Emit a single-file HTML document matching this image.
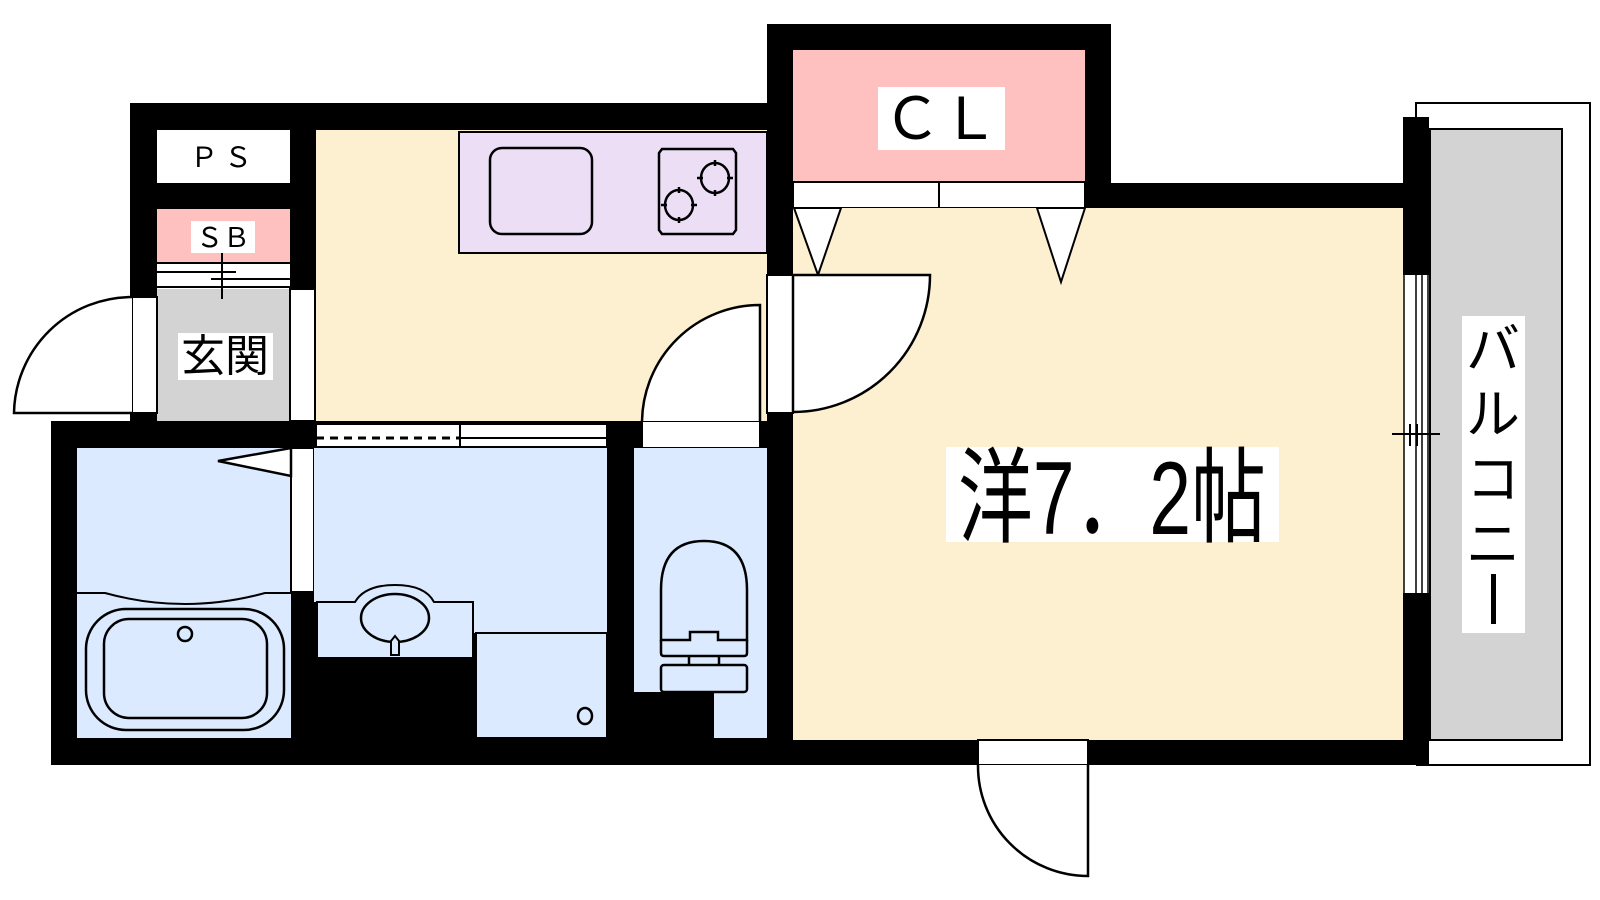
<!DOCTYPE html>
<html><head><meta charset="utf-8"><style>
html,body{margin:0;padding:0;background:#fff;}
svg{display:block;}
text{font-family:"Liberation Sans","Noto Sans CJK JP",sans-serif;fill:#000;}
</style></head><body>
<svg width="1600" height="900" viewBox="0 0 1600 900" xmlns="http://www.w3.org/2000/svg">
<g stroke="none">
<rect x="130" y="103" width="663" height="320" fill="#000"/>
<rect x="767" y="24" width="344" height="184" fill="#000"/>
<rect x="1085" y="183" width="344" height="25" fill="#000"/>
<rect x="1403" y="117" width="26" height="648" fill="#000"/>
<rect x="51" y="421" width="742" height="344" fill="#000"/>
<rect x="767" y="400" width="662" height="365" fill="#000"/>
</g>
<rect x="157" y="130" width="133" height="53" fill="#fff"/>
<rect x="157" y="209" width="133" height="53" fill="#ffc0c0"/>
<rect x="157" y="262" width="133" height="27" fill="#fff"/>
<rect x="157" y="289" width="133" height="132" fill="#d3d3d3"/>
<rect x="316" y="130" width="451" height="291" fill="#fdf0d0"/>
<rect x="459" y="132" width="308" height="121" fill="#ecdff5" stroke="#000" stroke-width="2"/>
<rect x="490" y="148" width="102" height="86" rx="12" fill="none" stroke="#000" stroke-width="2.5"/>
<path d="M662,149 H733 L736,153 V230 L733,234 H662 L659,230 V153 Z" fill="none" stroke="#000" stroke-width="2.5"/>
<g fill="none" stroke="#000" stroke-width="2.5">
<ellipse cx="715" cy="178" rx="14" ry="15"/><path d="M715,160v6M715,190v6M697,178h6M727,178h6"/>
<ellipse cx="679" cy="205" rx="14" ry="15"/><path d="M679,187v6M679,217v6M661,205h6M691,205h6"/>
</g>
<rect x="793" y="50" width="292" height="132" fill="#ffc0c0"/>
<rect x="793" y="182" width="292" height="26" fill="#fff" stroke="#000" stroke-width="2"/>
<line x1="939" y1="182" x2="939" y2="208" stroke="#000" stroke-width="2"/>
<rect x="793" y="208" width="610" height="532" fill="#fdf0d0"/>
<polygon points="794,208 841,208 818,275" fill="#fff" stroke="#000" stroke-width="2"/>
<polygon points="1037,208 1085,208 1061,282" fill="#fff" stroke="#000" stroke-width="2"/>
<rect x="767" y="275" width="26" height="138" fill="#fff" stroke="#000" stroke-width="2"/>
<path d="M793,275 H930 A137,137 0 0 1 793,412 Z" fill="#fff" stroke="#000" stroke-width="2.5"/>
<path d="M1416,117 V103 H1590 V765 H1416" fill="none" stroke="#000" stroke-width="2"/>
<rect x="1430" y="129" width="132" height="611" fill="#d3d3d3" stroke="#000" stroke-width="2"/>
<rect x="1403" y="275" width="26" height="318" fill="#fff"/>
<path d="M1404,275V593M1416,275V593M1422,275V593M1428,275V593" stroke="#000" stroke-width="1.5"/>
<path d="M1392,434H1440M1410,424V446M1417,424V446" stroke="#000" stroke-width="2"/>
<rect x="1462" y="316" width="63" height="317" fill="#fff"/>
<g font-size="54">
<text x="1493" y="368" text-anchor="middle">バ</text>
<text x="1493" y="433" text-anchor="middle">ル</text>
<text x="1493" y="498" text-anchor="middle">コ</text>
<text x="1493" y="563" text-anchor="middle">ニ</text>
</g>
<rect x="1491" y="574" width="5" height="50" fill="#000"/>
<rect x="132" y="297" width="25" height="116" fill="#fff" stroke="#000" stroke-width="2"/>
<path d="M132,297 A118,118 0 0 0 14,413 H132" fill="#fff" stroke="#000" stroke-width="2.5"/>
<rect x="290" y="289" width="25" height="132" fill="#fff" stroke="#000" stroke-width="2"/>
<g stroke="#000" stroke-width="2">
<path d="M157,263H290M157,272H236M211,279H290M157,287H290M222,253V299"/>
</g>
<rect x="191" y="221" width="64" height="32" fill="#fff"/>
<rect x="178" y="333" width="95" height="47" fill="#fff"/>
<rect x="642" y="421" width="118" height="27" fill="#fff" stroke="#000" stroke-width="2"/>
<path d="M760,421 V305 A118,118 0 0 0 642,421" fill="#fff" stroke="#000" stroke-width="2.5"/>
<rect x="316" y="424" width="291" height="23" fill="#fff" stroke="#000" stroke-width="2"/>
<line x1="316" y1="438" x2="460" y2="438" stroke="#000" stroke-width="3" stroke-dasharray="8,6"/>
<line x1="460" y1="438" x2="607" y2="438" stroke="#000" stroke-width="2"/>
<line x1="460" y1="424" x2="460" y2="447" stroke="#000" stroke-width="2"/>
<rect x="77" y="448" width="214" height="290" fill="#dbeafe"/>
<path d="M77,593 H105 Q185,615 265,593 H291" fill="none" stroke="#000" stroke-width="2"/>
<rect x="86" y="609" width="198" height="121" rx="40" fill="none" stroke="#000" stroke-width="2.5"/>
<rect x="104" y="619" width="163" height="99" rx="25" fill="none" stroke="#000" stroke-width="2.5"/>
<ellipse cx="185" cy="634" rx="7" ry="7" fill="none" stroke="#000" stroke-width="2.5"/>
<rect x="291" y="448" width="23" height="144" fill="#fff" stroke="#000" stroke-width="2"/>
<polygon points="218,461 291,448 291,476" fill="#fff" stroke="#000" stroke-width="2.5"/>
<rect x="314" y="448" width="293" height="154" fill="#dbeafe"/>
<rect x="472" y="448" width="135" height="185" fill="#dbeafe"/>
<path d="M317,602 H355 Q365,585 395,585 Q425,585 434,602 H473 V658 H317 Z" fill="#dbeafe" stroke="#000" stroke-width="2"/>
<ellipse cx="395" cy="618" rx="34" ry="24" fill="none" stroke="#000" stroke-width="2.5"/>
<path d="M391,655 V641 L395,636 L399,641 V655 Z" fill="#dbeafe" stroke="#000" stroke-width="2"/>
<rect x="476" y="633" width="131" height="105" fill="#dbeafe" stroke="#000" stroke-width="2"/>
<ellipse cx="585" cy="716" rx="7" ry="8" fill="none" stroke="#000" stroke-width="2.5"/>
<rect x="634" y="448" width="133" height="290" fill="#dbeafe"/>
<rect x="634" y="692" width="80" height="46" fill="#000"/>
<g fill="none" stroke="#000" stroke-width="2.5">
<path d="M661,640 V590 Q661,541 704,541 Q747,541 747,590 V640 H718 V632 H690 V640 Z"/>
<path d="M661,640 V653 Q661,656 664,656 H744 Q747,656 747,653 V640"/>
<path d="M689,656 V665 M719,656 V665"/>
<rect x="661" y="665" width="86" height="27" rx="3"/>
</g>
<rect x="978" y="740" width="110" height="25" fill="#fff" stroke="#000" stroke-width="2"/>
<path d="M1088,765 V876 A110,110 0 0 1 978,765" fill="#fff" stroke="#000" stroke-width="2.5"/>
<text x="224" y="167" font-size="28" text-anchor="middle" letter-spacing="6">ＰＳ</text>
<text x="223" y="247" font-size="27" text-anchor="middle">ＳＢ</text>
<text x="225" y="371" font-size="44" text-anchor="middle">玄関</text>
<rect x="878" y="87" width="127" height="63" fill="#fff"/>
<text x="941" y="139" font-size="58" text-anchor="middle">ＣＬ</text>
<rect x="946" y="447" width="333" height="95" fill="#fff"/>
<text transform="translate(1112,534) scale(0.72,1)" font-size="104" text-anchor="middle">洋7．2帖</text>
</svg>
</body></html>
